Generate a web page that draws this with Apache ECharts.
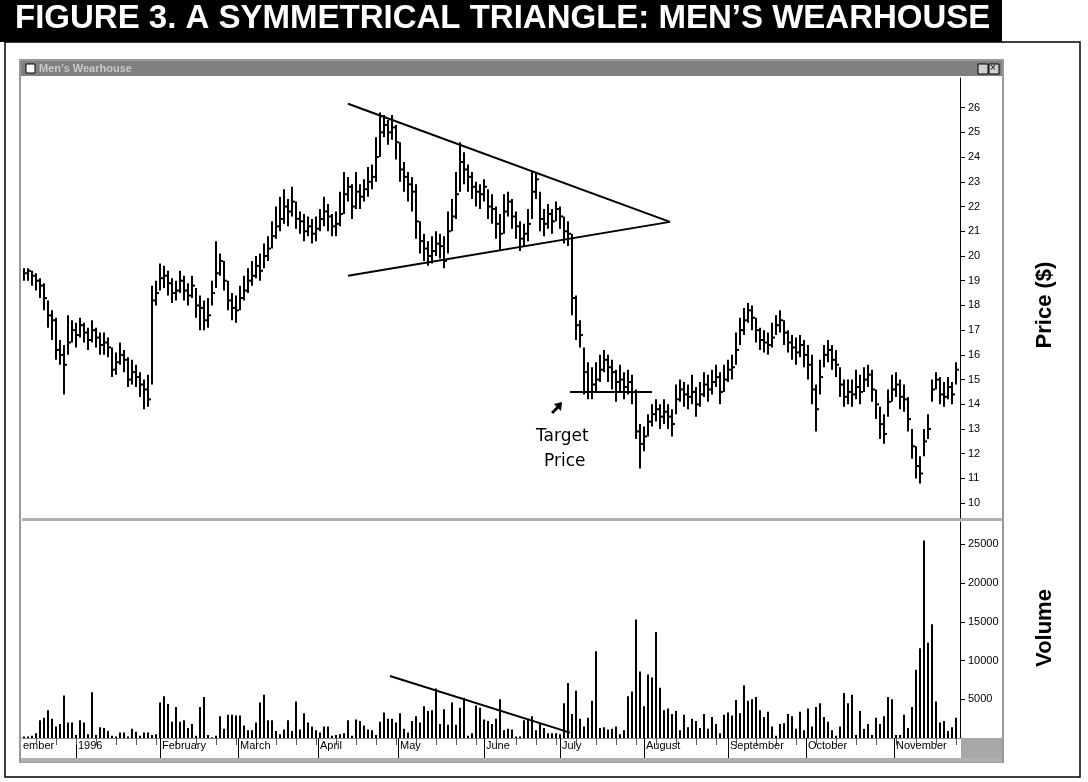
<!DOCTYPE html>
<html><head><meta charset="utf-8">
<script src="https://cdn.jsdelivr.net/npm/echarts@6/dist/echarts.min.js"></script>
<style>html,body{margin:0;padding:0;background:#fff}#c{width:1088px;height:782px}</style>
</head><body><div id="c"></div>
<script>
const closes=[19.3,19.4,19.2,19.0,18.8,18.3,17.6,17.4,16.2,16.0,
15.6,16.5,17.0,16.8,17.2,16.9,16.6,17.0,16.7,16.4,
16.5,16.3,15.4,15.7,16.0,15.8,15.0,15.3,15.1,14.8,
14.6,14.2,18.2,18.5,19.1,19.2,18.9,18.5,18.6,19.0,
18.6,18.4,18.8,18.0,17.9,17.4,17.6,18.5,19.3,19.8,
19.0,18.2,17.9,17.8,18.3,18.6,19.0,19.2,19.6,19.4,
20.0,20.3,20.8,21.2,21.5,22.0,21.8,22.2,21.5,21.4,
21.0,21.2,20.9,21.1,21.5,21.8,21.6,21.2,21.3,21.7,
22.5,22.8,22.0,22.6,22.4,22.7,23.0,23.2,24.0,25.0,
25.3,25.0,25.2,24.6,23.5,23.2,22.9,22.6,21.4,20.6,
20.3,20.0,20.2,20.5,20.4,19.8,21.0,21.6,22.5,23.8,
23.5,23.2,22.8,22.6,22.5,22.8,22.0,21.9,21.3,20.9,
21.8,22.2,21.6,21.2,20.7,20.9,21.3,22.6,23.1,21.5,
21.3,21.7,21.4,21.9,21.6,21.0,20.9,18.3,17.2,16.8,
15.3,14.5,14.8,15.0,15.4,15.8,15.5,15.3,14.9,15.0,
14.7,14.9,14.5,12.9,12.4,12.7,13.3,13.6,13.8,13.5,
13.7,13.5,13.2,14.2,14.6,14.4,14.3,14.5,14.0,14.4,
14.8,14.6,14.9,15.1,14.5,15.0,15.4,15.5,16.2,17.0,
17.4,17.8,17.5,17.0,16.6,16.5,16.4,16.7,17.2,17.4,
16.9,16.5,16.3,16.1,16.4,16.0,15.6,14.6,13.8,15.1,
16.0,16.2,15.8,15.6,14.8,14.3,14.5,14.4,14.7,14.5,
15.0,15.2,14.6,14.0,13.2,12.8,14.1,14.6,14.8,14.3,
14.2,13.4,12.3,11.5,11.2,12.5,13.0,14.6,15.0,14.4,
14.3,14.7,14.4,15.4];
const highs=[19.5,19.5,19.4,19.3,19.1,18.9,18.2,17.8,17.5,16.6,
16.4,17.6,17.4,17.3,17.5,17.3,17.1,17.4,17.1,16.9,
16.9,16.7,16.3,16.1,16.5,16.2,15.9,15.8,15.6,15.3,
15.0,15.2,18.8,19.0,19.7,19.6,19.4,19.1,19.0,19.4,
19.2,18.9,19.2,18.7,18.4,18.2,18.3,19.0,20.6,20.1,
19.8,19.0,18.5,18.4,18.8,19.2,19.5,19.8,20.0,20.1,
20.5,20.8,21.4,22.0,22.4,22.7,22.3,22.8,22.2,21.8,
21.7,21.6,21.5,21.6,21.9,22.4,22.1,21.7,21.8,22.6,
23.4,23.2,22.9,23.4,22.9,23.1,23.6,23.7,24.8,25.8,
25.7,25.5,25.7,25.3,24.6,23.8,23.4,23.2,22.9,21.4,
20.9,20.6,20.8,21.0,20.9,20.8,21.8,22.3,23.4,24.6,
24.2,23.7,23.4,23.0,22.9,23.1,22.7,22.5,22.0,21.7,
22.5,22.6,22.3,21.8,21.4,21.3,21.9,23.4,23.4,22.6,
21.9,22.1,21.9,22.2,22.0,21.6,21.4,20.9,18.4,17.4,
16.3,15.7,15.5,15.7,16.0,16.2,16.0,15.8,15.4,15.6,
15.3,15.4,15.2,14.6,13.2,13.1,13.6,14.0,14.2,14.0,
14.2,14.0,13.8,14.8,15.0,14.9,14.8,15.2,14.7,14.9,
15.3,15.2,15.4,15.6,15.3,15.6,15.8,16.0,16.9,17.5,
17.9,18.1,18.0,17.5,17.1,17.0,16.9,17.3,17.6,17.8,
17.4,17.0,16.8,16.7,16.8,16.6,16.4,16.0,14.8,15.8,
16.4,16.6,16.4,16.2,15.5,15.0,15.0,15.0,15.4,15.2,
15.5,15.6,15.4,14.6,13.9,13.6,14.6,15.2,15.3,15.0,
14.8,14.3,13.0,12.3,11.9,13.0,13.6,15.0,15.3,15.1,
14.9,15.1,14.9,15.7];
const lows=[19.0,19.0,18.8,18.6,18.3,17.8,17.1,16.6,15.8,15.6,
14.4,16.0,16.5,16.3,16.7,16.5,16.2,16.5,16.3,16.0,
16.0,15.9,15.1,15.2,15.6,15.3,14.7,14.8,14.7,14.3,
13.8,13.9,14.8,18.0,18.6,18.7,18.4,18.1,18.2,18.5,
18.2,18.0,18.3,17.5,17.0,17.0,17.1,18.0,18.7,19.2,
18.6,17.8,17.4,17.3,17.8,18.2,18.5,18.8,19.1,19.0,
19.5,19.8,20.3,20.7,21.0,21.3,21.2,21.6,21.1,20.9,
20.6,20.8,20.5,20.6,21.0,21.2,21.0,20.8,20.8,21.2,
21.7,22.2,21.5,21.9,21.9,22.2,22.4,22.7,23.0,24.0,
24.8,24.5,24.7,23.9,23.0,22.6,22.2,21.8,20.7,20.1,
19.8,19.6,19.7,20.0,19.9,19.5,20.1,21.0,21.5,22.6,
22.9,22.6,22.3,22.0,21.9,22.2,21.5,21.3,20.7,20.2,
20.9,21.6,21.1,20.7,20.2,20.4,20.6,21.5,22.3,21.0,
20.8,21.1,20.9,21.4,21.1,20.5,20.4,17.6,16.6,16.3,
14.4,14.2,14.2,14.5,14.9,15.3,14.9,14.6,14.1,14.5,
14.2,14.4,14.0,12.6,11.4,12.1,12.7,13.1,13.3,13.0,
13.2,13.0,12.7,13.6,14.1,13.9,13.8,14.0,13.5,13.9,
14.3,14.1,14.4,14.7,14.0,14.5,14.9,15.0,15.6,16.4,
16.8,17.3,17.0,16.5,16.2,16.1,16.0,16.3,16.8,16.9,
16.4,16.1,15.8,15.6,15.9,15.5,15.0,14.0,12.9,14.4,
15.5,15.7,15.4,15.1,14.3,13.9,14.0,13.9,14.2,14.0,
14.5,14.7,14.1,13.4,12.6,12.4,13.5,14.1,14.3,13.8,
13.7,12.9,11.8,11.0,10.8,11.9,12.6,14.1,14.6,14.0,
13.9,14.2,14.0,14.8];
// volume in thousands of shares
const volumes=[0.2,0.2,0.3,0.6,2.3,2.6,3.6,2.5,1.5,1.8,
5.5,2.0,2.0,0.4,2.3,2.0,0.5,5.9,0.4,1.4,
1.3,0.9,0.3,0.2,0.7,0.7,0.2,1.2,0.8,0.3,
0.7,0.7,0.4,0.5,4.6,5.4,4.4,2.1,4.0,2.1,
2.3,1.3,1.8,0.3,4.0,5.3,0.4,0.1,0.3,2.8,
1.2,3.0,3.0,2.9,2.9,1.6,1.0,1.0,2.0,4.6,
5.6,2.3,2.3,0.9,0.5,1.1,2.3,0.9,4.7,1.1,
3.2,2.0,1.5,1.0,0.7,1.5,1.5,0.3,0.4,0.5,
0.6,2.3,0.3,2.4,2.2,1.6,1.1,1.0,0.4,2.1,
3.3,2.5,2.5,2.0,3.2,1.2,0.7,2.2,2.8,2.0,
4.1,3.5,3.6,6.4,1.8,3.7,1.7,4.6,1.7,3.9,
5.2,0.3,0.6,4.2,3.9,2.4,2.2,1.8,2.5,5.0,
1.0,1.2,1.1,0.2,0.2,2.3,2.5,2.8,1.0,1.8,
1.3,0.6,0.6,0.6,0.5,4.5,7.1,3.1,
6.1,2.5,1.5,2.6,4.8,11.2,1.3,1.4,1.1,1.2,
1.5,0.5,1.0,5.4,6.0,15.3,8.6,4.1,8.2,7.8,
13.7,6.5,3.6,3.8,3.1,3.5,1.0,3.0,1.4,2.5,
2.2,1.3,3.1,1.2,2.7,1.8,0.6,3.0,3.3,2.9,
4.9,3.2,6.8,4.8,5.0,5.3,3.6,2.7,3.4,1.5,
0.3,1.8,1.9,3.1,2.8,1.2,3.4,1.0,3.8,
1.5,4.0,4.5,2.7,2.1,1.0,0.3,1.5,5.8,4.5,
5.6,0.4,3.5,1.2,1.8,0.4,2.6,1.8,2.8,5.3,
5.0,0.4,0.4,3.0,1.3,4.0,8.8,11.6,25.5,
12.3,14.7,4.7,2.0,2.2,0.9,1.4,2.6];
const monthNames=['1996','February','March','April','May','June','July','August','September','October','November'];
const monthStarts=[13,34,53.5,73.5,93.5,115,134,155,176,195.5,217.5];
const priceTicks=[10,11,12,13,14,15,16,17,18,19,20,21,22,23,24,25,26];
const volTicks=[5,10,15,20,25];
const upperTrend=[[81,26.16],[161.5,21.38]];
const lowerTrend=[[81,19.2],[161.5,21.38]];
const targetLine=[[136.5,14.5],[157,14.5]];
const volTrend=[[91.5,8.0],[136.5,0.7]];

const ohlc=closes.map((c,i)=>[i,highs[i],lows[i],c]);
const vol=volumes.map((v,i)=>[i,v]);
const weekTicks=[];for(let w=-2;w<234;w+=5)weekTicks.push(w);
const font='"Liberation Sans", Arial, sans-serif';
const ch=echarts.init(document.getElementById('c'));
const lineS=(data,xi,yi)=>({type:'line',xAxisIndex:xi,yAxisIndex:yi,data,symbol:'none',lineStyle:{color:'#000',width:2},silent:true,z:5});
ch.setOption({
 animation:false,
 grid:[{left:22,right:128,top:78,bottom:264},{left:22,right:128,top:522,bottom:44}],
 xAxis:[
  {gridIndex:0,type:'value',position:'bottom',min:-0.5,max:234,axisLine:{show:false},axisTick:{show:false},axisLabel:{show:false},splitLine:{show:false}},
  {gridIndex:1,type:'value',position:'bottom',min:-0.5,max:234,axisLine:{onZero:false,lineStyle:{color:'#888'}},
   axisTick:{customValues:monthStarts,length:20,lineStyle:{color:'#000'}},
   axisLabel:{customValues:monthStarts,formatter:v=>monthNames[monthStarts.indexOf(v)],align:'left',margin:2,padding:[0,0,0,2],fontFamily:font,fontSize:11,color:'#000'},splitLine:{show:false}},
  {gridIndex:1,type:'value',position:'bottom',min:-0.5,max:234,axisLine:{show:false,onZero:false},axisTick:{customValues:weekTicks,length:7,lineStyle:{color:'#555'}},axisLabel:{show:false},splitLine:{show:false}}
 ],
 yAxis:[
  {gridIndex:0,type:'value',position:'right',min:9.4,max:27.2,axisLine:{show:true,onZero:false,lineStyle:{color:'#000'}},
   axisTick:{show:true,customValues:priceTicks,length:5,lineStyle:{color:'#000'}},
   axisLabel:{customValues:priceTicks,fontFamily:font,fontSize:11,color:'#000',margin:8},splitLine:{show:false}},
  {gridIndex:1,type:'value',position:'right',min:0,max:27.9,axisLine:{show:true,onZero:false,lineStyle:{color:'#000'}},
   axisTick:{show:true,customValues:volTicks,length:5,lineStyle:{color:'#000'}},
   axisLabel:{customValues:volTicks,formatter:v=>String(v*1000),fontFamily:font,fontSize:11,color:'#000',margin:8},splitLine:{show:false}}
 ],
 series:[
  {type:'custom',xAxisIndex:0,yAxisIndex:0,data:ohlc,renderItem:(p,api)=>{
    const x=api.coord([api.value(0),api.value(1)]);const lo=api.coord([api.value(0),api.value(2)]);const c=api.coord([api.value(0),api.value(3)]);
    return {type:'group',children:[
     {type:'line',shape:{x1:x[0],y1:x[1],x2:lo[0],y2:lo[1]},style:{stroke:'#000',lineWidth:2}},
     {type:'line',shape:{x1:c[0],y1:c[1],x2:c[0]+3,y2:c[1]},style:{stroke:'#000',lineWidth:2}}]};
  }},
  {type:'bar',xAxisIndex:1,yAxisIndex:1,data:vol,barWidth:2,itemStyle:{color:'#000'}},
  lineS(upperTrend,0,0),lineS(lowerTrend,0,0),lineS(targetLine,0,0),lineS(volTrend,1,1)
 ],
 graphic:[
  {type:'rect',shape:{x:0,y:0,width:1002,height:42},style:{fill:'#000'}},
  {type:'text',left:15,top:2,style:{text:'FIGURE 3. A SYMMETRICAL TRIANGLE: MEN\u2019S WEARHOUSE',fill:'#fff',font:'bold 33px "Liberation Sans", Arial, sans-serif'}},
  {type:'rect',shape:{x:5,y:42,width:1075,height:735},style:{fill:null,stroke:'#000',lineWidth:1.5},z:-1},
  {type:'rect',shape:{x:20,y:60,width:983,height:702},style:{fill:null,stroke:'#999',lineWidth:2},z:-1},
  {type:'rect',shape:{x:21,y:61,width:981,height:15},style:{fill:'#808080'}},
  {type:'rect',shape:{x:26,y:64,width:9,height:9},style:{fill:'#fff',stroke:'#000',lineWidth:1}},
  {type:'text',left:39,top:63,style:{text:'Men\u2019s Wearhouse',fill:'#c8c8c8',font:'bold 11px "Liberation Sans", Arial, sans-serif'}},
  {type:'rect',shape:{x:978,y:64,width:10,height:10},style:{fill:'#d0d0d0',stroke:'#000'}},
  {type:'rect',shape:{x:989,y:64,width:10,height:10},style:{fill:'#d0d0d0',stroke:'#000'}},
  {type:'text',left:990,top:63,style:{text:'\u00d7',fill:'#000',font:'10px sans-serif'}},
  {type:'rect',shape:{x:22,y:518,width:980,height:3},style:{fill:'#b0b0b0'}},
  {type:'rect',shape:{x:961,y:738,width:41,height:22},style:{fill:'#a8a8a8'}},
  {type:'rect',shape:{x:21,y:758,width:981,height:4},style:{fill:'#b0b0b0'}},
  {type:'text',left:23,top:740,style:{text:'ember',fill:'#000',font:'11px "Liberation Sans", Arial, sans-serif'}},
  {type:'text',left:536,top:428,style:{text:'Target',fill:'#000',font:'17px "DejaVu Sans", sans-serif'}},
  {type:'text',left:544,top:453,style:{text:'Price',fill:'#000',font:'17px "DejaVu Sans", sans-serif'}},
  {type:'polygon',shape:{points:[[562,402],[554,404],[556.5,406.5],[551,412],[553,414],[558.5,408.5],[561,411]]},style:{fill:'#000'}},
  {type:'text',x:1045,y:305,rotation:Math.PI/2,style:{text:'Price ($)',fill:'#000',font:'bold 22px "Liberation Sans", Arial, sans-serif',align:'center',verticalAlign:'middle'}},
  {type:'text',x:1045,y:628,rotation:Math.PI/2,style:{text:'Volume',fill:'#000',font:'bold 22px "Liberation Sans", Arial, sans-serif',align:'center',verticalAlign:'middle'}}
 ]
});
</script></body></html>
